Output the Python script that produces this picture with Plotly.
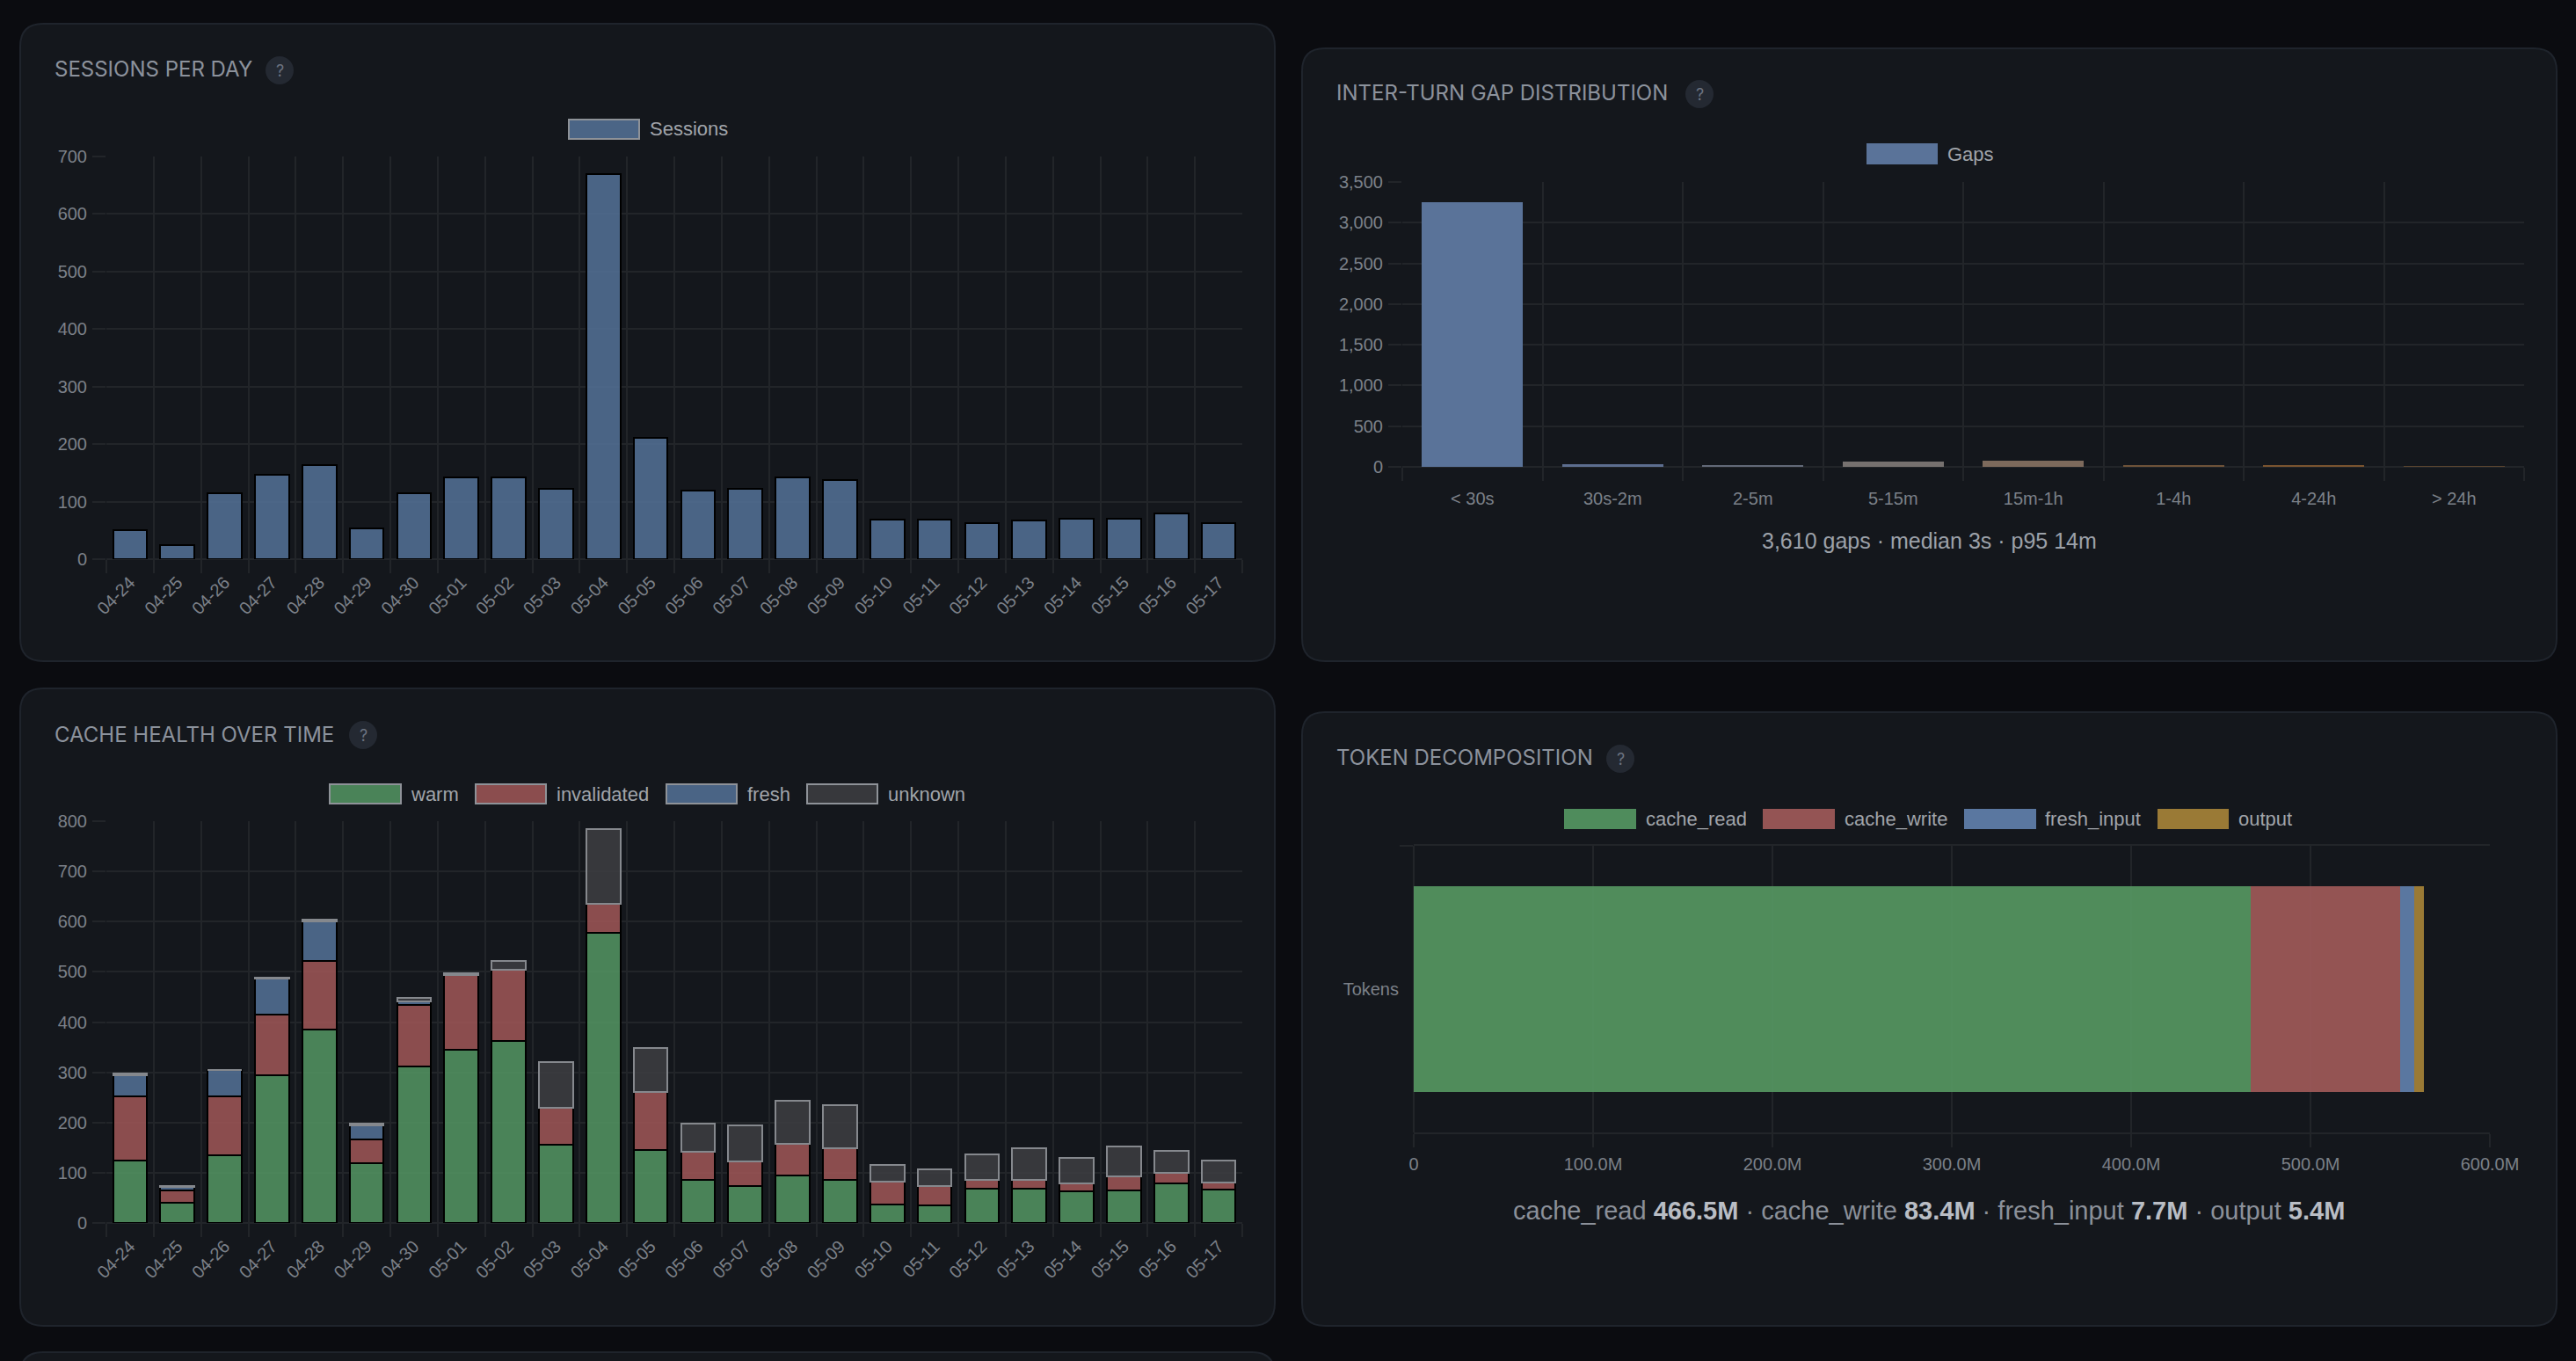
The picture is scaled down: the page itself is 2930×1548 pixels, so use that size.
import plotly.graph_objects as go

W, H = 2930, 1548

# ---------------- data ----------------
days = ["04-24", "04-25", "04-26", "04-27", "04-28", "04-29", "04-30", "05-01",
        "05-02", "05-03", "05-04", "05-05", "05-06", "05-07", "05-08", "05-09",
        "05-10", "05-11", "05-12", "05-13", "05-14", "05-15", "05-16", "05-17"]
sessions = [51, 24, 114, 146, 163, 54, 114, 142, 142, 123, 670, 211,
            119, 122, 142, 137, 69, 69, 62, 67, 70, 70, 79, 62]

warm = [124, 41, 135, 294, 386, 119, 311, 344, 362, 156, 578, 145,
        86, 73, 94, 86, 36, 35, 68, 69, 63, 65, 78, 66]
invalidated = [128, 24, 117, 121, 136, 47, 124, 150, 143, 74, 58, 116,
               56, 49, 64, 63, 47, 38, 18, 17, 15, 27, 21, 15]
fresh = [42, 6, 52, 71, 79, 29, 6, 0, 0, 0, 0, 0,
         0, 0, 0, 0, 0, 0, 0, 0, 0, 0, 0, 0]
unknown = [3, 3, 0, 3, 3, 3, 8, 3, 17, 90, 149, 88,
           55, 73, 86, 85, 32, 33, 50, 62, 51, 61, 44, 44]

gap_buckets = ["< 30s", "30s-2m", "2-5m", "5-15m", "15m-1h", "1-4h", "4-24h", "> 24h"]
gap_counts = [3255, 29, 26, 64, 74, 14, 16, 6]
gap_colors = ["#5a7399", "#5d6e8f", "#626978", "#76716f", "#7d6a5c", "#6e5239", "#7a5430", "#5a4530"]
gap_total = 3610
gap_median = "3s"
gap_p95 = "14m"

token_names = ["cache_read", "cache_write", "fresh_input", "output"]
token_values_m = [466.5, 83.4, 7.7, 5.4]
token_colors = ["rgba(86,153,99,0.9)", "rgba(162,91,90,0.9)", "rgba(98,130,175,0.9)", "rgba(169,133,57,0.9)"]
token_tick_vals = [0, 100, 200, 300, 400, 500, 600]
token_tick_text = ["0", "100.0M", "200.0M", "300.0M", "400.0M", "500.0M", "600.0M"]

# ---------------- style ----------------
PAGE_BG = "#0b0c10"
PANEL_BG = "#14171c"
PANEL_BORDER = "#1f242c"
GRID = "#222529"
TICK_FONT = dict(family="Liberation Sans, Arial, sans-serif", size=20, color="#7b8088")
LEG_FONT = dict(family="Liberation Sans, Arial, sans-serif", size=22, color="#a0a4aa")
TITLE_FONT = dict(family="Inter, sans-serif", size=24, color="#8c929c")

C_WARM = "rgba(84,150,99,0.85)"
C_INV = "rgba(160,87,87,0.85)"
C_FRESH = "rgba(84,114,152,0.85)"
C_UNK = "rgba(61,62,66,0.85)"


def X(px):
    return px / W


def Y(py):
    return 1 - py / H


def rrect(x0, y0, x1, y1, r, fill, line):
    a, b = X(x0), X(x1)
    t, bt = Y(y0), Y(y1)
    rx, ry = r / W, r / H
    path = (f"M {a+rx},{t} L {b-rx},{t} Q {b},{t} {b},{t-ry} L {b},{bt+ry} "
            f"Q {b},{bt} {b-rx},{bt} L {a+rx},{bt} Q {a},{bt} {a},{bt+ry} "
            f"L {a},{t-ry} Q {a},{t} {a+rx},{t} Z")
    return dict(type="path", xref="paper", yref="paper", path=path,
                fillcolor=fill, line=dict(color=line, width=2), layer="below")


shapes = []
annotations = []

# panels
shapes.append(rrect(23, 27, 1450, 752, 26, PANEL_BG, PANEL_BORDER))
shapes.append(rrect(1481, 55, 2908, 752, 26, PANEL_BG, PANEL_BORDER))
shapes.append(rrect(23, 783, 1450, 1508, 26, PANEL_BG, PANEL_BORDER))
shapes.append(rrect(1481, 810, 2908, 1508, 26, PANEL_BG, PANEL_BORDER))
shapes.append(rrect(23, 1538, 1450, 1640, 26, PANEL_BG, PANEL_BORDER))


def title(text, x, y, qx):
    annotations.append(dict(xref="paper", yref="paper", x=X(x), y=Y(y), text=text,
                            showarrow=False, xanchor="left", yanchor="middle",
                            font=TITLE_FONT))
    r = 16
    shapes.append(dict(type="circle", xref="paper", yref="paper",
                       x0=X(qx - r), x1=X(qx + r), y0=Y(y + 1 + r), y1=Y(y + 1 - r),
                       fillcolor="#242932", line=dict(width=0), layer="above"))
    annotations.append(dict(xref="paper", yref="paper", x=X(qx), y=Y(y + 1), text="?",
                            showarrow=False, xanchor="center", yanchor="middle",
                            font=dict(family="Inter, sans-serif", size=18, color="#6b7280")))


title("SESSIONS PER DAY", 60, 79, 318)
title("INTER-TURN GAP DISTRIBUTION", 1518, 106, 1933)
title("CACHE HEALTH OVER TIME", 60, 835, 413)
title("TOKEN DECOMPOSITION", 1518, 862, 1843)


def legend_item(x0, x1, y0, y1, fill, border, label, tx):
    shapes.append(dict(type="rect", xref="paper", yref="paper",
                       x0=X(x0), x1=X(x1), y0=Y(y1), y1=Y(y0),
                       fillcolor=fill, line=dict(color=border, width=2), layer="above"))
    annotations.append(dict(xref="paper", yref="paper", x=X(tx), y=Y((y0 + y1) / 2),
                            text=label, showarrow=False, xanchor="left", yanchor="middle",
                            font=LEG_FONT))


LEG_BORDER = "#8e9298"
legend_item(647, 727, 136, 158, "#4b6586", LEG_BORDER, "Sessions", 737)
legend_item(2124, 2203, 164, 186, gap_colors[0], gap_colors[0], "Gaps", 2213)
legend_item(375, 456, 892, 914, "#4a8358", LEG_BORDER, "warm", 465)
legend_item(541, 621, 892, 914, "#8b4d4e", LEG_BORDER, "invalidated", 631)
legend_item(758, 838, 892, 914, "#4a6485", LEG_BORDER, "fresh", 848)
legend_item(918, 998, 892, 914, "#37383c", LEG_BORDER, "unknown", 1008)
tok_leg_x = [(1780, 1860, 1870), (2006, 2086, 2096), (2235, 2315, 2324), (2455, 2534, 2544)]
tok_leg_fill = ["#4f8c5c", "#945454", "#5a77a0", "#9a7a36"]
for (a, b, t), f, n in zip(tok_leg_x, tok_leg_fill, token_names):
    legend_item(a, b, 921, 942, f, f, n, t)

# summaries
annotations.append(dict(xref="paper", yref="paper", x=X(2194), y=Y(615),
                        text=f"{gap_total:,} gaps · median {gap_median} · p95 {gap_p95}",
                        showarrow=False, xanchor="center", yanchor="middle",
                        font=dict(family="Liberation Sans, Arial, sans-serif", size=25, color="#9ca1a9")))
parts = []
for n, v in zip(token_names, token_values_m):
    parts.append(f"{n} <b><span style='color:#b9bdc4'>{v:.1f}M</span></b>")
annotations.append(dict(xref="paper", yref="paper", x=X(2194), y=Y(1377),
                        text=" · ".join(parts), showarrow=False, xanchor="center", yanchor="middle",
                        font=dict(family="Liberation Sans, Arial, sans-serif", size=29, color="#8b9099")))

# ---------------- traces ----------------
fig = go.Figure()

fig.add_trace(go.Bar(x=days, y=sessions, name="Sessions", xaxis="x", yaxis="y",
                     marker=dict(color=C_FRESH, line=dict(color="#000000", width=2))))

fig.add_trace(go.Bar(x=gap_buckets, y=gap_counts, name="Gaps", xaxis="x2", yaxis="y2",
                     marker=dict(color=gap_colors, line=dict(width=0))))

for vals, col, border, nm in [(warm, C_WARM, "#000000", "warm"),
                              (invalidated, C_INV, "#000000", "invalidated"),
                              (fresh, C_FRESH, "#000000", "fresh"),
                              (unknown, C_UNK, "#85888d", "unknown")]:
    fig.add_trace(go.Bar(x=days, y=vals, name=nm, xaxis="x3", yaxis="y3",
                         marker=dict(color=col, line=dict(color=border, width=2))))

for v, col, nm in zip(token_values_m, token_colors, token_names):
    fig.add_trace(go.Bar(x=[v], y=["Tokens"], name=nm, orientation="h", xaxis="x4", yaxis="y4",
                         marker=dict(color=col, line=dict(width=0))))


def cat_axis(domain, anchor, angle=None, standoff=6):
    d = dict(domain=domain, anchor=anchor, type="category", tickson="boundaries",
             showgrid=True, gridcolor=GRID, gridwidth=2, ticks="outside", ticklen=15,
             tickcolor=GRID, tickwidth=2, tickfont=TICK_FONT, showline=False,
             zeroline=False, fixedrange=True, ticklabelstandoff=standoff, automargin=False)
    if angle is not None:
        d["tickangle"] = angle
    return d


def lin_axis(domain, anchor, rng, dtick, fmt=None):
    d = dict(domain=domain, anchor=anchor, range=rng, dtick=dtick, tick0=0,
             showgrid=True, gridcolor=GRID, gridwidth=2, ticks="outside", ticklen=15,
             tickcolor=GRID, tickwidth=2, tickfont=TICK_FONT, showline=False,
             zeroline=True, zerolinecolor=GRID, zerolinewidth=2, fixedrange=True,
             ticklabelstandoff=2, automargin=False)
    if fmt:
        d["tickformat"] = fmt
    return d


y4 = cat_axis([Y(1288), Y(962)], "x4", standoff=16)
y4["range"] = [-0.5, 0.5]

layout = dict(
    template="none",
    width=W, height=H, margin=dict(l=0, r=0, t=0, b=0, pad=0, autoexpand=False),
    paper_bgcolor=PAGE_BG, plot_bgcolor="rgba(0,0,0,0)",
    showlegend=False, barmode="stack", bargap=0.28,
    shapes=shapes, annotations=annotations,
    xaxis=cat_axis([X(121), X(1413)], "y", angle=-45, standoff=10),
    yaxis=lin_axis([Y(636), Y(178)], "x", [0, 700], 100),
    xaxis2=cat_axis([X(1595), X(2871)], "y2", standoff=22),
    yaxis2=lin_axis([Y(531), Y(207)], "x2", [0, 3500], 500, ",d"),
    xaxis3=cat_axis([X(121), X(1413)], "y3", angle=-45, standoff=10),
    yaxis3=lin_axis([Y(1391), Y(934)], "x3", [0, 800], 100),
    xaxis4=dict(domain=[X(1608), X(2832)], anchor="y4", range=[0, 600],
                tickvals=token_tick_vals, ticktext=token_tick_text,
                showgrid=True, gridcolor=GRID, gridwidth=2, ticks="outside", ticklen=15,
                tickcolor=GRID, tickwidth=2, tickfont=TICK_FONT, zeroline=True,
                zerolinecolor=GRID, zerolinewidth=2, fixedrange=True, ticklabelstandoff=2,
                showline=True, mirror=True, linecolor=GRID, linewidth=2, automargin=False),
    yaxis4=y4,
)
fig.update_layout(**layout)

fig.write_html("out.html", config={"displayModeBar": False})
